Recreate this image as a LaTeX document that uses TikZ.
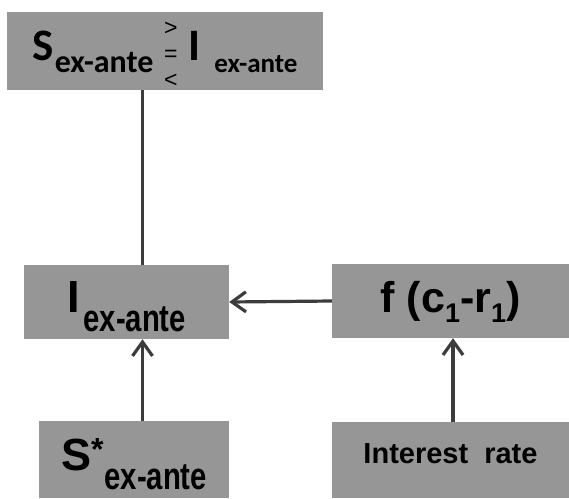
\documentclass[tikz,border=0pt]{standalone}
\usepackage{fontspec}
\usetikzlibrary{arrows.meta}
\newfontfamily\arialfont{Liberation Sans}
\newfontfamily\arialnarrow[FakeStretch=0.77]{Liberation Sans}
\newfontfamily\califont{Carlito}
\definecolor{boxgray}{HTML}{969696}
\definecolor{linegray}{HTML}{3C3C3C}
\newcommand{\fsz}[1]{\fontsize{#1}{#1}\selectfont}
\newcommand{\cmpstack}{\makebox[15pt]{\arialfont\mdseries\fsz{23}\rlap{\raisebox{24.5pt}{>}}\rlap{\raisebox{-1pt}{=}}\raisebox{-27.5pt}{<}}}
\newcommand{\exante}[1]{\raisebox{-19pt}{\arialnarrow\bfseries\fsz{#1}ex-ante}}

\begin{document}
\begin{tikzpicture}[x=1pt,y=-1pt,
  box/.style={fill=boxgray, inner sep=0pt},
  link/.style={draw=linegray, line width=3.2pt},
  arr/.style={link, -{Straight Barb[length=14pt,width=20pt]}}]
\useasboundingbox (0,0) rectangle (569,498);
\node[box, minimum width=316pt, minimum height=78pt, text height=30pt, text depth=12pt](balance) at (165,51)
  {\califont\bfseries\fsz{45}S\hspace{1pt}\raisebox{-12pt}{\fsz{32}ex-ante}\hspace{10pt}\cmpstack\hspace{10pt}I\hspace{14pt}\raisebox{-12pt}{\fsz{27}ex-ante}};
\node[box, minimum width=205pt, minimum height=74pt, text height=32pt, text depth=12pt](iex) at (126.5,302)
  {\arialfont\bfseries\fsz{45}I\hspace{4pt}\exante{38}};
\node[box, minimum width=237pt, minimum height=74pt, text height=30pt, text depth=8pt](fbox) at (450.5,301)
  {\arialfont\bfseries\fsz{43}f (c\raisebox{-10pt}{\fsz{27}1}-r\raisebox{-10pt}{\fsz{27}1})};
\node[box, minimum width=190pt, minimum height=77pt, text height=33pt, text depth=12pt](sstar) at (134,459.5)
  {\arialfont\bfseries\fsz{45}S\raisebox{10pt}{\fsz{32}*}\hspace{1pt}\exante{38}};
\node[box, minimum width=237pt, minimum height=76pt, text height=21pt, text depth=14pt](rate) at (450.5,460)
  {\arialfont\bfseries\fsz{29}Interest\ \ rate};
\coordinate (leftline) at (142.5,0);
\coordinate (rightline) at (453,0);
\draw[link] (balance.south -| leftline) -- (iex.north -| leftline);
\draw[arr] (sstar.north -| leftline) -- (iex.south -| leftline);
\draw[arr] (fbox.west) -- (iex.east);
\draw[arr] (rate.north -| rightline) -- (fbox.south -| rightline);
\end{tikzpicture}
\end{document}
